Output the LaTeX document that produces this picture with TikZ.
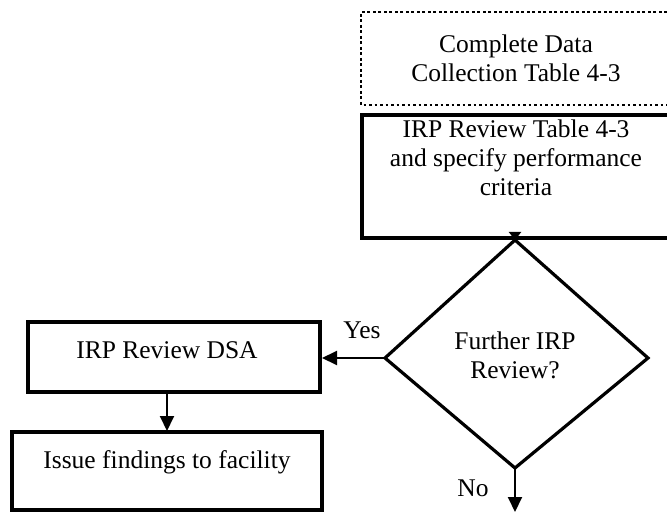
\documentclass[tikz,border=0pt]{standalone}
\usepackage{fontspec}
\setmainfont{Liberation Serif}
\usetikzlibrary{arrows.meta}
\begin{document}
\begin{tikzpicture}[x=1pt,y=-1pt,
  txt/.style={align=center,font=\fontsize{25.5}{29}\selectfont,inner sep=0pt},
  boxline/.style={line width=3.2pt},
  dotline/.style={line width=2.6pt,dash pattern=on 2.6pt off 2.9pt},
  conn/.style={line width=2pt,-{Triangle[length=15pt,width=14pt]}},
  lbl/.style={font=\fontsize{25.5}{29}\selectfont,inner sep=0pt}]
\useasboundingbox (0,0) rectangle (667,513);
\begin{scope}
\clip (0,0) rectangle (667,513);
% optional data-collection step (dotted)
\draw[dotline] (700,12) -- (361,12) -- (361,105) -- (700,105);
\node[txt] (collect) at (516,58) {Complete Data\\Collection Table 4-3};
% review step
\draw[boxline] (700,115) -- (362,115) -- (362,238) -- (700,238);
\coordinate (reviewbot) at (515,236);
\node[txt] (review) at (516,158) {IRP Review Table 4-3\\and specify performance\\criteria};
\end{scope}
% decision
\coordinate (dtop) at (515,240);
\coordinate (dleft) at (385,358);
\coordinate (dright) at (648,358);
\coordinate (dbot) at (515,468);
\draw[boxline,line join=miter] (dtop) -- (dright) -- (dbot) -- (dleft) -- cycle;
\node[txt] (decide) at (515,355) {Further IRP\\Review?};
\draw[line width=2pt,-{Triangle[length=8pt,width=12pt]}] (reviewbot) -- (dtop);
% left branch
\draw[boxline] (28,322) rectangle (320,392);
\node[txt] (dsa) at (167,350) {IRP Review DSA};
\coordinate (dsaright) at (322,358);
\coordinate (dsabot) at (167,392);
\draw[boxline] (12,432) rectangle (322,510);
\node[txt] (issue) at (167,462) {Issue findings to facility};
\coordinate (issuetop) at (167,431);
\coordinate (noend) at (515,512);
\draw[conn] (dleft) -- (dsaright);
\draw[conn] (dsabot) -- (issuetop);
\draw[conn] (dbot) -- (noend);
\node[lbl] (yes) at (362,330) {Yes};
\node[lbl] (no) at (473,488) {No};
\end{tikzpicture}
\end{document}
